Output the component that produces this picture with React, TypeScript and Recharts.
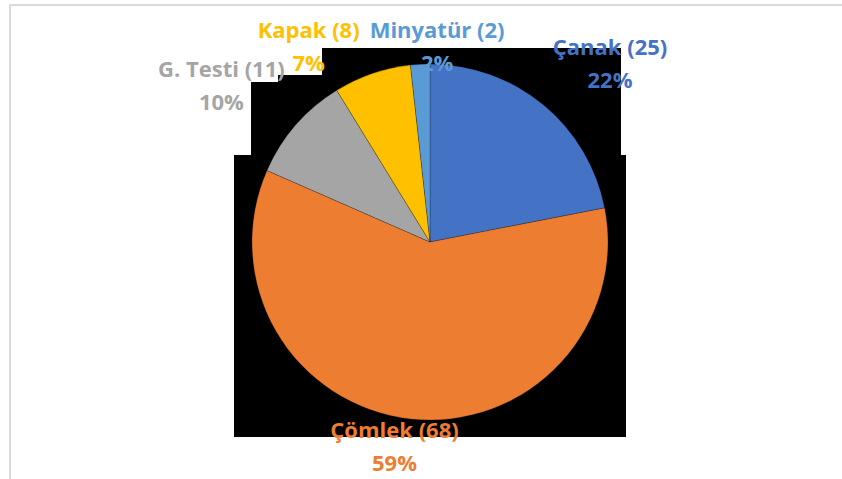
import React from 'react';
import { PieChart, Pie, Cell } from 'recharts';

const categories = ['Çanak', 'Çömlek', 'G. Testi', 'Kapak', 'Minyatür'];
const counts = [25, 68, 11, 8, 2];
const percentLabels = ['22%', '59%', '10%', '7%', '2%'];
const colors = ['#4472C4', '#ED7D31', '#A5A5A5', '#FFC000', '#5B9BD5'];

const data = categories.map((name, i) => ({
  name,
  value: counts[i],
  pct: percentLabels[i],
  title: `${name} (${counts[i]})`,
}));

const W = 842;
const H = 479;
const CX = 430;
const CY = 242;
const R = 178;
const FONT_SIZE = 22;
const FONT_FAMILY = "'Open Sans', 'DejaVu Sans', sans-serif";
const LINE = 33;
const GAP = 12;
const AREA = { top: 12, bottom: 478, left: 14, right: 838 };

let ctx: CanvasRenderingContext2D | null = null;
function measure(text: string): number {
  if (!ctx) {
    const c = document.createElement('canvas');
    ctx = c.getContext('2d');
  }
  if (!ctx) return text.length * FONT_SIZE * 0.55;
  ctx.font = `bold ${FONT_SIZE}px 'Open Sans'`;
  return ctx.measureText(text).width;
}

type Box = { x: number; y: number; w: number; h: number };
let cachedLayout: Box[] | null = null;

function computeLayout(cx: number, cy: number, r: number): Box[] {
  const total = data.reduce((s, d) => s + d.value, 0);
  let cum = 0;
  const boxes: Box[] = data.map((d) => {
    const mid = 90 - ((cum + d.value / 2) / total) * 360;
    cum += d.value;
    const rad = (mid * Math.PI) / 180;
    const c = Math.cos(rad);
    const s = Math.sin(rad);
    const ax = cx + (r + GAP) * c;
    const ay = cy - (r + GAP) * s;
    const w = Math.max(measure(d.title), measure(d.pct)) + 4;
    const h = LINE * 2;
    const fx = Math.max(-1, Math.min(1, c * 2));
    const fy = Math.max(-1, Math.min(1, s * 2));
    let x = ax + (fx * w) / 2;
    let y = ay - (fy * h) / 2;
    if (y - h / 2 < AREA.top) y = AREA.top + h / 2;
    if (y + h / 2 > AREA.bottom) y = AREA.bottom - h / 2;
    if (x - w / 2 < AREA.left) x = AREA.left + w / 2;
    if (x + w / 2 > AREA.right) x = AREA.right - w / 2;
    return { x, y, w, h };
  });
  // resolve horizontal overlaps for labels on the same row
  for (let iter = 0; iter < 5; iter++) {
    for (let i = 0; i < boxes.length; i++) {
      for (let j = i + 1; j < boxes.length; j++) {
        const a = boxes[i];
        const b = boxes[j];
        if (Math.abs(a.y - b.y) >= a.h / 2) continue;
        const need = (a.w + b.w) / 2 + 6;
        const dist = Math.abs(a.x - b.x);
        if (dist < need) {
          const push = (need - dist) / 2;
          if (a.x < b.x) {
            a.x -= push;
            b.x += push;
          } else {
            a.x += push;
            b.x -= push;
          }
        }
      }
    }
  }
  return boxes;
}

const renderLabel = (props: any) => {
  const { cx, cy, outerRadius, index } = props;
  if (!cachedLayout) cachedLayout = computeLayout(cx, cy, outerRadius);
  const box = cachedLayout[index];
  const d = data[index];
  const top = box.y - box.h / 2;
  return (
    <g key={`lbl-${index}`}>
      <text
        x={box.x}
        y={top + LINE / 2}
        textAnchor="middle"
        dominantBaseline="central"
        fill={colors[index]}
        fontFamily={FONT_FAMILY}
        fontWeight="bold"
        fontSize={FONT_SIZE}
      >
        {d.title}
      </text>
      <text
        x={box.x}
        y={top + LINE + LINE / 2}
        textAnchor="middle"
        dominantBaseline="central"
        fill={colors[index]}
        fontFamily={FONT_FAMILY}
        fontWeight="bold"
        fontSize={FONT_SIZE}
      >
        {d.pct}
      </text>
    </g>
  );
};

export default function App() {
  return (
    <div>
      <div
        style={{
          position: 'absolute',
          left: 9,
          top: 4,
          width: W - 9,
          height: H - 4,
          boxSizing: 'border-box',
          borderTop: '2px solid #d9d9d9',
          borderLeft: '2px solid #d9d9d9',
          background: '#ffffff',
        }}
      />
      <svg
        width={W}
        height={H}
        style={{ position: 'absolute', left: 0, top: 0 }}
      >
        <polygon
          points="322,48 621,48 621,155 626,155 626,437 234,437 234,155 251,155 251,82 278,82 278,75 322,75"
          fill="#000000"
        />
      </svg>
      <div style={{ position: 'absolute', left: 0, top: 0 }}>
        <PieChart width={W} height={H} margin={{ top: 0, right: 0, bottom: 0, left: 0 }}>
          <Pie
            data={data}
            dataKey="value"
            nameKey="name"
            cx={CX}
            cy={CY}
            outerRadius={R}
            startAngle={90}
            endAngle={-270}
            label={renderLabel}
            labelLine={false}
            isAnimationActive={false}
            stroke="rgba(0,0,0,0.3)"
            strokeWidth={0.75}
          >
            {data.map((d, i) => (
              <Cell key={d.name} fill={colors[i]} />
            ))}
          </Pie>
        </PieChart>
      </div>
    </div>
  );
}
